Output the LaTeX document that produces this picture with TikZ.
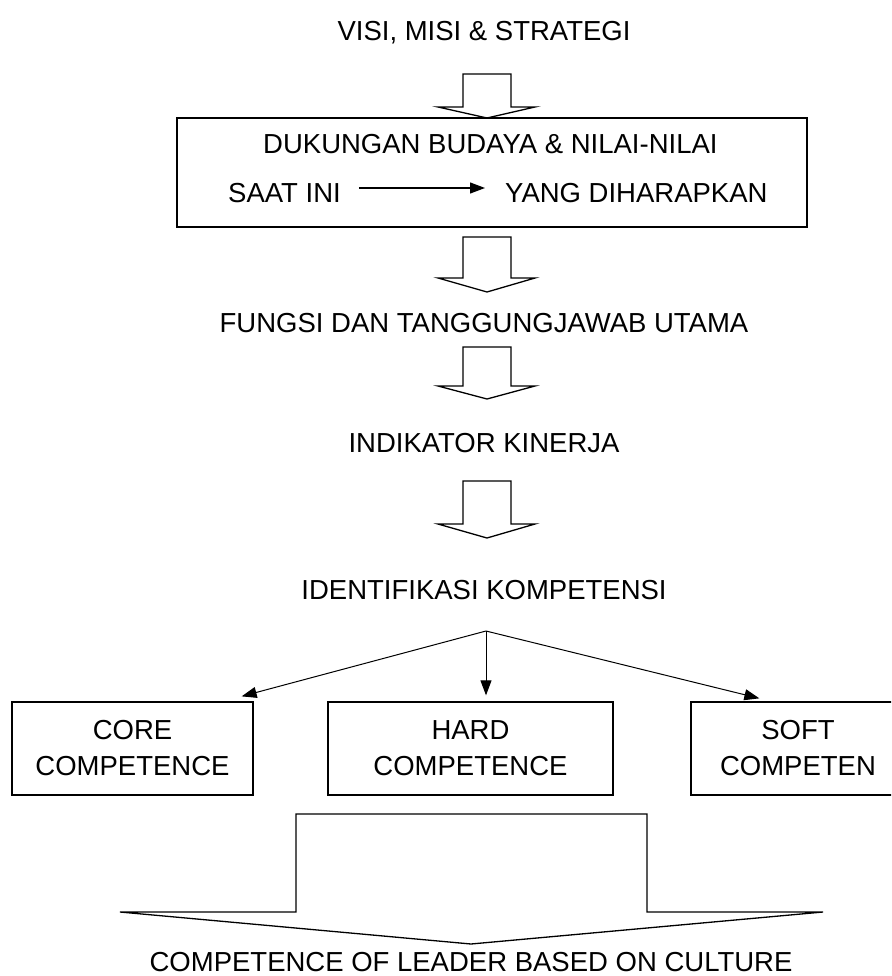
\documentclass[tikz,border=0pt]{standalone}
\usepackage{fontspec}
\setmainfont{Liberation Sans}
\usetikzlibrary{arrows.meta}
\newcommand\blockarr[3]{\draw[blk] (463,#1) -- (463,#2) -- (438,#2) -- (487,#3) -- (535,#2) -- (511,#2) -- (511,#1) -- cycle;}
\begin{document}
\begin{tikzpicture}[x=1pt,y=-1pt,
  lbl/.style={font=\fontsize{27.5}{36}\selectfont, inner sep=0pt, text height=19.7pt, text depth=0pt},
  boxlbl/.style={draw, line width=1.3pt, font=\fontsize{27.5}{36}\selectfont, align=center, inner sep=0pt, minimum height=93pt},
  blk/.style={line width=1.3pt, line join=miter},
  conn/.style={line width=1pt, -{Triangle[length=15pt,width=11pt]}}
]
\useasboundingbox (0,0) rectangle (891,976);
\clip (0,0) rectangle (891,976);

\node[lbl] (title) at (484,31) {VISI, MISI \& STRATEGI};
\blockarr{74}{107}{118}

\node[draw, line width=1.3pt, minimum width=630pt, minimum height=109pt, inner sep=0pt] (budaya) at (492,172.5) {};
\node[lbl, anchor=west] (dukungan) at (263,144) {DUKUNGAN BUDAYA \& NILAI-NILAI};
\node[lbl, anchor=west] (saat) at (228,193) {SAAT INI};
\node[lbl, anchor=west] (yang) at (505,193) {YANG DIHARAPKAN};
\draw[conn, line width=1.2pt, shorten <=18pt, shorten >=20pt] ([yshift=5pt]saat.east) -- ([yshift=5pt]yang.west);

\blockarr{237}{278}{292}
\node[lbl] (fungsi) at (484,323) {FUNGSI DAN TANGGUNGJAWAB UTAMA};
\blockarr{347}{386}{399}
\node[lbl] (indikator) at (484,443) {INDIKATOR KINERJA};
\blockarr{481}{524}{538}
\node[lbl] (identifikasi) at (484,590) {IDENTIFIKASI KOMPETENSI};
\coordinate (apex) at (486,631);

\node[boxlbl, minimum width=241pt] (core) at (132.5,748.5) {CORE\\COMPETENCE};
\node[boxlbl, minimum width=285pt] (hard) at (470.5,748.5) {HARD\\COMPETENCE};
\node[boxlbl, minimum width=214pt] (soft) at (798,748.5) {SOFT\\COMPETEN};

\draw[conn] (apex) -- ([xshift=-12pt,yshift=5pt]core.north east);
\draw[conn] (apex) -- ([yshift=6pt]apex |- hard.north);
\draw[conn] (apex) -- ([xshift=69pt,yshift=3pt]soft.north west);

\draw[blk] (120,912) -- (296,912) -- (296,814) -- (647,814) -- (647,912) -- (823,912) -- (471,944) -- cycle;
\node[lbl] (result) at (471,962) {COMPETENCE OF LEADER BASED ON CULTURE};
\end{tikzpicture}
\end{document}
